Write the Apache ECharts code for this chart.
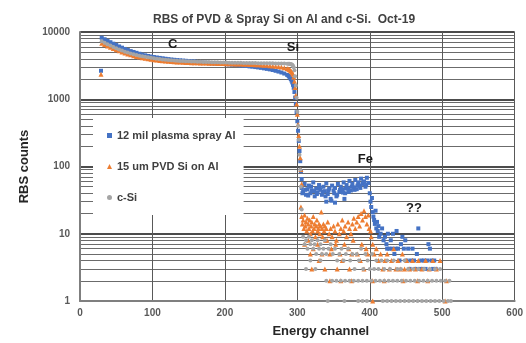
<!DOCTYPE html>
<html>
<head>
<meta charset="utf-8">
<script src="https://cdn.jsdelivr.net/npm/echarts@6/dist/echarts.min.js"></script>
<style>
  html, body { margin: 0; padding: 0; background: #fff; }
  #main { width: 526px; height: 343px; }
</style>
</head>
<body>
<div id="main"></div>
<script>
// channels of the dense (smooth) part of the spectra
var smoothCh = [30, 34, 38, 42, 46, 50, 54, 58, 62, 66, 70, 74, 78, 82, 86, 90, 94, 98, 102, 106,
  110, 114, 118, 122, 126, 130, 134, 138, 142, 146, 150, 154, 158, 162, 166, 170, 174, 178, 182, 186,
  190, 194, 198, 202, 206, 210, 214, 218, 222, 226, 230, 234, 238, 242, 246, 250, 254, 258, 262, 266,
  270, 274, 278, 282, 286, 288, 289, 290, 291, 292, 293, 294, 295, 296, 297, 298, 299, 300, 301, 302,
  303, 304, 305, 306];

// 12 mil plasma spray Al
var blueSmooth = [8200, 7800, 7400, 7050, 6700, 6400, 6100, 5850, 5600, 5400, 5200, 5050, 4900, 4750, 4620, 4500, 4400, 4320, 4250, 4180,
  4120, 4060, 4000, 3950, 3900, 3860, 3820, 3790, 3760, 3730, 3700, 3680, 3650, 3560, 3530, 3500, 3480, 3450, 3430, 3400,
  3380, 3360, 3340, 3310, 3290, 3260, 3240, 3210, 3180, 3150, 3120, 3080, 3050, 3010, 2970, 2930, 2880, 2830, 2780, 2720,
  2650, 2580, 2500, 2410, 2300, 2220, 2160, 2090, 2000, 1900, 1780, 1640, 1480, 1280, 1060, 850, 640, 470, 340, 240,
  170, 120, 85, 65];
// 15 um PVD Si on Al
var orangeSmooth = [6800, 6500, 6200, 5950, 5700, 5450, 5250, 5050, 4880, 4720, 4580, 4450, 4340, 4240, 4150, 4070, 4000, 3940, 3880, 3830,
  3780, 3740, 3700, 3670, 3640, 3610, 3590, 3570, 3550, 3530, 3510, 3500, 3490, 3480, 3470, 3460, 3450, 3440, 3430, 3420,
  3410, 3400, 3390, 3380, 3370, 3360, 3350, 3340, 3330, 3320, 3310, 3300, 3290, 3270, 3250, 3230, 3210, 3190, 3160, 3130,
  3100, 3060, 3010, 2950, 2870, 2820, 2780, 2730, 2660, 2580, 2480, 2350, 2150, 1850, 1500, 1150, 850, 600, 420, 290,
  200, 135, 90, 55];
// c-Si
var graySmooth = [7300, 6950, 6600, 6300, 6000, 5750, 5500, 5300, 5100, 4950, 4800, 4680, 4560, 4450, 4360, 4280, 4200, 4130, 4070, 4010,
  3960, 3910, 3870, 3830, 3800, 3770, 3740, 3720, 3700, 3680, 3660, 3640, 3630, 3610, 3600, 3590, 3580, 3570, 3560, 3550,
  3540, 3530, 3520, 3510, 3500, 3500, 3490, 3480, 3480, 3470, 3460, 3460, 3450, 3450, 3440, 3440, 3430, 3430, 3420, 3420,
  3410, 3410, 3400, 3390, 3380, 3370, 3360, 3350, 3330, 3300, 3250, 3150, 3000, 2700, 2200, 1600, 1050, 650, 400, 250,
  150, 90, 50, 23];

// sparse points: [channel, counts]
var blueTail = [[29, 2650],
  [306, 48], [307, 40], [308, 42], [310, 55], [311, 45], [312, 38], [314, 46], [315, 37], [316, 52], [318, 40], [319, 50],
  [320, 44], [322, 58], [323, 43], [324, 36], [326, 47], [327, 39], [328, 41], [330, 53], [331, 47], [332, 45], [334, 38],
  [335, 42], [336, 50], [338, 43], [339, 36], [340, 56], [340, 30], [342, 39], [343, 44], [344, 47], [346, 33], [347, 31],
  [348, 52], [350, 44], [351, 40], [352, 48], [352, 29], [354, 36], [355, 38], [356, 55], [358, 42], [359, 45], [360, 50],
  [362, 46], [363, 41], [364, 58], [365, 33], [366, 40], [367, 47], [368, 53], [370, 47], [371, 42], [372, 61], [374, 44],
  [375, 50], [376, 55], [378, 49], [379, 45], [380, 63], [382, 46], [383, 52], [384, 58], [386, 52], [387, 48], [388, 66],
  [390, 55], [391, 58], [392, 60], [394, 50], [395, 53], [396, 68], [398, 57],
  [400, 40], [401, 30], [402, 25], [403, 34], [404, 21], [405, 18], [406, 16], [407, 14], [408, 22], [409, 12], [410, 15],
  [411, 11], [412, 13], [413, 9], [415, 10], [417, 12], [419, 8], [421, 9], [423, 7], [424, 6], [425, 10], [427, 6],
  [429, 8], [431, 6], [432, 10], [434, 5], [436, 6], [437, 11], [439, 6], [441, 4], [443, 7], [445, 9], [447, 6],
  [449, 8], [451, 4], [453, 6], [455, 3], [457, 4], [459, 6], [461, 4], [463, 3], [465, 5], [467, 12], [469, 3],
  [471, 4], [473, 3], [475, 4], [477, 3], [479, 4], [481, 7], [483, 6], [485, 4], [487, 3], [489, 4], [491, 3]];

var orangeTail = [[29, 2350],
  [305, 25], [306, 18], [307, 14], [308, 16], [309, 12], [310, 19], [311, 13], [312, 15], [313, 11], [314, 17], [315, 14],
  [316, 12], [317, 16], [318, 10], [319, 13], [320, 15], [321, 11], [322, 18], [323, 12], [324, 14], [325, 9], [326, 13],
  [327, 16], [328, 11], [329, 12], [330, 14], [331, 10], [332, 13], [333, 21], [334, 12], [335, 9], [336, 14], [337, 11],
  [338, 13], [339, 8], [340, 12], [342, 15], [344, 10], [346, 12], [348, 9], [350, 13], [352, 11], [354, 8], [356, 14],
  [358, 10], [360, 12], [362, 16], [364, 11], [366, 13], [368, 9], [370, 15], [372, 12], [374, 10], [376, 14], [378, 17],
  [380, 12], [382, 15], [384, 18], [386, 13], [388, 20], [390, 16], [392, 22], [394, 18], [396, 14], [398, 19], [399, 12],
  [401, 11], [402, 9],
  [310, 7], [315, 8], [322, 6], [328, 7], [334, 5], [341, 8], [347, 6], [353, 7], [359, 5], [365, 7], [371, 6], [377, 8],
  [383, 5], [389, 7], [395, 6], [318, 5], [330, 4], [345, 5], [362, 4], [375, 5], [387, 4], [397, 5], [320, 3], [338, 3],
  [355, 3], [372, 3], [392, 3],
  [404, 7], [406, 5], [409, 6], [412, 4], [415, 5], [418, 3], [421, 4], [424, 5], [427, 3], [430, 4], [433, 6], [436, 3],
  [439, 4], [442, 3], [445, 5], [448, 3], [451, 4], [455, 3], [459, 4], [463, 3], [467, 4], [472, 3], [477, 4], [482, 3],
  [487, 4], [492, 3], [497, 4],
  [345, 2], [360, 2], [375, 2], [404, 2], [420, 2], [446, 2], [466, 2], [480, 2], [506, 2], [404, 1], [504, 1]];

var grayTail = [
  [308, 9], [310, 7], [312, 8], [314, 6], [316, 9], [318, 7], [320, 8], [322, 6], [324, 7], [326, 5], [328, 8], [330, 6],
  [332, 7], [334, 5], [336, 6], [338, 8], [340, 5], [343, 6], [346, 7], [349, 5], [352, 6], [355, 4], [358, 5], [361, 6],
  [364, 4], [367, 5], [370, 6], [373, 4], [376, 5], [379, 3], [382, 5], [385, 4], [388, 6], [391, 3], [394, 5], [397, 4],
  [400, 3], [403, 5], [406, 3], [409, 4], [412, 3], [416, 4], [420, 3], [424, 4], [428, 3], [433, 4], [438, 3], [443, 3],
  [448, 4], [453, 3], [460, 3], [467, 3], [475, 3], [483, 3], [490, 3], [497, 3], [312, 3], [318, 4], [325, 3], [332, 4],
  [340, 2], [348, 2], [354, 2], [360, 2], [366, 2], [372, 2], [378, 2], [384, 2], [390, 2], [396, 2], [402, 2], [408, 2],
  [414, 2], [420, 2], [426, 2], [432, 2], [438, 2], [444, 2], [450, 2], [456, 2], [462, 2], [468, 2], [474, 2], [480, 2],
  [486, 2], [492, 2], [498, 2], [504, 2], [510, 2],
  [342, 1], [365, 1], [384, 1], [390, 1], [396, 1], [418, 1], [424, 1], [430, 1], [436, 1], [442, 1], [448, 1], [454, 1],
  [460, 1], [466, 1], [472, 1], [478, 1], [484, 1], [490, 1], [496, 1], [502, 1], [508, 1], [512, 1]];

// element labels written on the plot: [text, channel, counts]
var notes = [['C', 128, 6450], ['Si', 294, 5840], ['Fe', 394, 126], ['??', 461, 23.6]];

var seriesNames = ['12 mil plasma spray Al', '15 um PVD Si on Al', 'c-Si'];

function pairs(values) {
  return smoothCh.map(function (c, i) { return [c, values[i]]; });
}

var myChart = echarts.init(document.getElementById('main'));
var font = '"Liberation Sans", Arial, sans-serif';

option = {
  animation: false,
  textStyle: { fontFamily: font },
  title: {
    text: 'RBS of PVD & Spray Si on Al and c-Si.  Oct-19',
    left: 148,
    top: 9,
    textStyle: { fontSize: 12, fontWeight: 'bold', color: '#404040', fontFamily: font }
  },
  grid: { left: 80, right: 11, top: 32, bottom: 37, containLabel: false },
  legend: {
    orient: 'vertical',
    left: 93,
    top: 118,
    padding: [12, 8, 12, 14],
    itemGap: 20,
    itemWidth: 5,
    itemHeight: 5,
    backgroundColor: '#fff',
    textStyle: { fontSize: 11, fontWeight: 'bold', color: '#404040', fontFamily: font },
    data: [
      { name: seriesNames[0], icon: 'rect' },
      { name: seriesNames[1], icon: 'triangle' },
      { name: seriesNames[2], icon: 'circle' }
    ]
  },
  xAxis: {
    type: 'value',
    min: 0,
    max: 600,
    interval: 100,
    name: 'Energy channel',
    nameLocation: 'middle',
    nameGap: 24,
    nameTextStyle: { fontSize: 13, fontWeight: 'bold', color: '#262626', padding: [0, 0, 0, 47] },
    axisLine: { lineStyle: { color: '#7f7f7f', width: 2 } },
    axisTick: { show: false },
    axisLabel: { fontSize: 10, fontWeight: 'bold', color: '#595959', margin: 7 },
    splitLine: { show: true, lineStyle: { color: '#595959', width: 1 } }
  },
  yAxis: {
    type: 'log',
    logBase: 10,
    min: 1,
    max: 10000,
    name: 'RBS counts',
    nameLocation: 'middle',
    nameGap: 45,
    nameTextStyle: { fontSize: 13, fontWeight: 'bold', color: '#262626' },
    axisLine: { show: true, lineStyle: { color: '#7f7f7f', width: 2 } },
    axisTick: { show: false },
    axisLabel: {
      fontSize: 10, fontWeight: 'bold', color: '#595959', margin: 10,
      formatter: function (v) { return String(Math.round(v)); }
    },
    splitLine: { show: true, lineStyle: { color: '#111', width: 1.5 } },
    minorTick: { show: false, splitNumber: 9 },
    minorSplitLine: { show: true, lineStyle: { color: '#6b6b6b', width: 1 } }
  },
  series: [
    {
      name: seriesNames[0],
      type: 'scatter',
      symbol: 'rect',
      symbolSize: 4,
      itemStyle: { color: '#4472C4', opacity: 1 },
      data: pairs(blueSmooth).concat(blueTail)
    },
    {
      name: seriesNames[1],
      type: 'scatter',
      symbol: 'triangle',
      symbolSize: 5,
      itemStyle: { color: '#ED7D31', opacity: 1 },
      data: pairs(orangeSmooth).concat(orangeTail)
    },
    {
      name: seriesNames[2],
      type: 'scatter',
      symbol: 'circle',
      symbolSize: 4,
      itemStyle: { color: '#A5A5A5', opacity: 1 },
      data: pairs(graySmooth).concat(grayTail),
      markPoint: {
        symbol: 'circle',
        symbolSize: 0,
        silent: true,
        label: {
          show: true,
          position: 'inside',
          formatter: '{b}',
          fontSize: 13,
          fontWeight: 'bold',
          color: '#1a1a1a',
          fontFamily: font
        },
        data: notes.map(function (n) { return { name: n[0], coord: [n[1], n[2]] }; })
      }
    }
  ]
};

myChart.setOption(option);
</script>
</body>
</html>
